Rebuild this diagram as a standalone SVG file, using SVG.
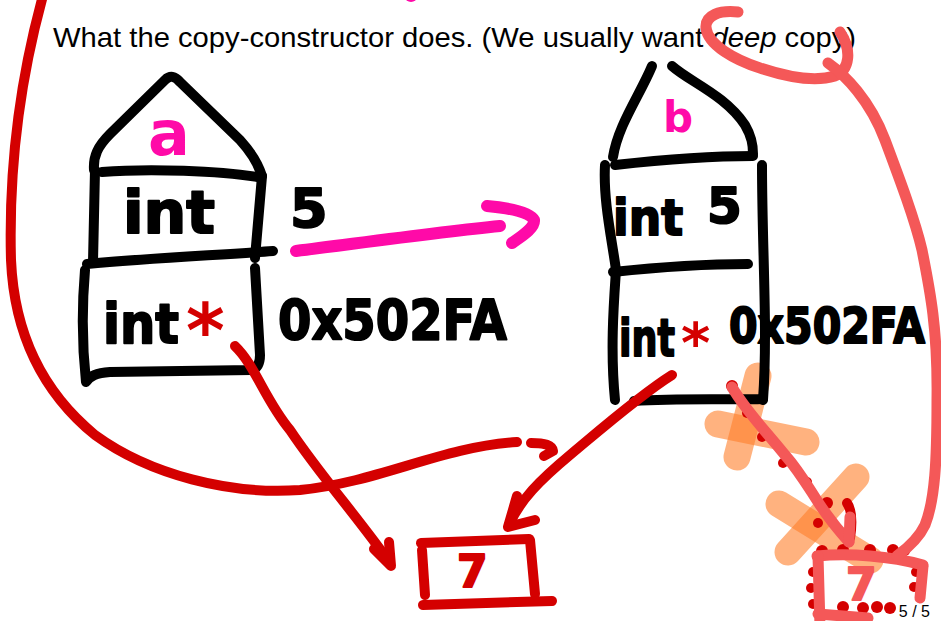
<svg xmlns="http://www.w3.org/2000/svg" width="941" height="621" viewBox="0 0 941 621">
<style>
.ink{fill:none;stroke-linecap:round;stroke-linejoin:round}
.k{stroke:#000;stroke-width:10}
.r{stroke:#d40000;stroke-width:10}
.m{stroke:#ff0aa8;stroke-width:12}
.s{stroke:#f45858;stroke-width:11}
.o{stroke:#ff7f2a;stroke-width:27;stroke-opacity:0.6}
.hw{font-family:"DejaVu Sans",sans-serif;font-weight:bold;stroke-linejoin:round}
.hk{fill:#000;stroke:#000;stroke-width:2}
.title{font-family:"Liberation Sans",Arial,sans-serif;font-size:28px;fill:#000}
.dot{fill:#d40000}
</style>
<rect width="941" height="621" fill="#fff"/>

<text class="title" x="53" y="47" textLength="803" lengthAdjust="spacingAndGlyphs">What the copy-constructor does. (We usually want <tspan font-style="italic">deep</tspan> copy)</text>

<text x="930" y="617" text-anchor="end" style="font-family:'Liberation Sans',Arial,sans-serif;font-size:16px;fill:#000">5 / 5</text>

<!-- orange crosses (under the ink) -->
<g id="crosses">
<path class="ink o" d="M758 376 L737 457"/>
<path class="ink o" d="M718 424 L806 442"/>
<path class="ink o" d="M856 477 L788 552"/>
<path class="ink o" d="M779 504 L870 560"/>
</g>

<g id="obj-a">
<path class="ink k" d="M94 170 C93 156 98 146 110 134 L165 80 C170 75 175 76 180 82 L240 140 C250 151 258 163 262 176"/>
<path class="ink k" d="M102 172 C150 168 220 171 258 177"/>
<path class="ink k" d="M95 170 L93 262"/>
<path class="ink k" d="M262 176 L255 258"/>
<path class="ink k" d="M87 264 C150 258 220 255 273 251"/>
<path class="ink k" d="M85 270 C82 305 82 345 86 382 C90 376 96 373 110 372 L252 370 C258 368 260 363 260 355 L255 268"/>
<text class="hw" x="148" y="155" font-size="62" fill="#ff0aa8">a</text>
<text class="hw hk" x="123" y="233" font-size="58" textLength="92" lengthAdjust="spacingAndGlyphs">int</text>
<text class="hw hk" x="290" y="227" font-size="54">5</text>
<text class="hw hk" x="103" y="343" font-size="56" textLength="76" lengthAdjust="spacingAndGlyphs">int</text>
<text class="hw" x="186" y="357" font-size="74" fill="#d40000">*</text>
<text class="hw hk" x="278" y="339" font-size="56" textLength="229" lengthAdjust="spacingAndGlyphs">0x502FA</text>
</g>

<g id="obj-b">
<path class="ink k" d="M652 66 C640 95 618 125 613 157"/>
<path class="ink k" d="M672 66 C690 82 725 95 745 125 C752 137 753 145 753 154"/>
<path class="ink k" d="M615 165 C660 160 710 156 753 156"/>
<path class="ink k" d="M605 165 C603 200 612 240 616 270 C614 300 610 350 615 400"/>
<path class="ink k" d="M762 165 C762 250 768 330 763 400"/>
<path class="ink k" d="M634 401 C680 398 730 400 763 399"/>
<path class="ink k" d="M613 272 C660 267 700 264 748 264"/>
<text class="hw" x="663" y="132" font-size="42" fill="#ff0aa8">b</text>
<text class="hw hk" font-size="50"><tspan x="613" y="235" textLength="70" lengthAdjust="spacingAndGlyphs">int</tspan> <tspan x="707" y="223">5</tspan></text>
<text class="hw hk" x="619" y="356" font-size="52" textLength="56" lengthAdjust="spacingAndGlyphs">int</text>
<text class="hw" x="681" y="362" font-size="56" fill="#d40000">*</text>
<text class="hw hk" x="729" y="343" font-size="49" textLength="196" lengthAdjust="spacingAndGlyphs">0x502FA</text>
</g>

<g id="box-7-left">
<path class="ink r" d="M421 543 L529 539"/>
<path class="ink r" d="M422 550 L425 595"/>
<path class="ink r" d="M530 540 L535 594"/>
<path class="ink r" d="M423 605 L552 601"/>
<text class="hw" x="457" y="587" font-size="44" fill="#d40000" stroke="#d40000" stroke-width="2">7</text>
</g>

<g id="box-7-right">
<g class="dot">
<circle cx="822" cy="551" r="6"/><circle cx="843" cy="550" r="6"/><circle cx="870" cy="550" r="6"/><circle cx="893" cy="550" r="6"/><circle cx="905" cy="551" r="5"/>
<circle cx="813" cy="572" r="5"/><circle cx="811" cy="588" r="5"/><circle cx="813" cy="604" r="5"/>
<circle cx="843" cy="607" r="6"/><circle cx="863" cy="608" r="6"/><circle cx="877" cy="607" r="6"/><circle cx="890" cy="608" r="6"/>
<circle cx="914" cy="587" r="5"/><circle cx="916" cy="572" r="5"/>
</g>
<path class="ink s" d="M817 556 C850 553 890 556 923 565"/>
<path class="ink s" d="M818 556 L820 626"/>
<path class="ink s" d="M923 566 L920 598"/>
<path class="ink s" d="M818 614 L868 618"/>
<text class="hw" x="846" y="600" font-size="44" fill="#f45858" stroke="#f45858" stroke-width="2">7</text>
</g>

<g id="connectors">
<!-- copy arrow -->
<path class="ink m" d="M296 251 C360 243 440 232 500 226"/>
<path class="ink m" d="M487 206 C510 208 530 212 534 220 C535 228 522 236 512 243"/>
<!-- big loop arrow -->
<path class="ink r" d="M44 -8 C25 60 8 150 11 260 C14 330 40 390 95 435 C150 475 230 495 300 490 C380 482 440 447 517 442"/>
<path class="ink r" d="M531 443 C545 443 552 445 553 451 L544 456"/>
<!-- a's pointer -->
<path class="ink r" d="M235 346 C255 365 265 400 290 430 C320 475 360 520 390 563"/>
<path class="ink r" d="M374 549 L391 566 L389 542"/>
<!-- b's pointer -->
<path class="ink r" d="M672 375 C640 395 600 430 570 455 C540 480 520 500 509 525"/>
<path class="ink r" d="M517 496 L508 527 L535 520"/>
<!-- remnants of the struck-out pointer -->
<g class="dot">
<circle cx="732" cy="386" r="6"/><circle cx="747" cy="413" r="5"/><circle cx="762" cy="437" r="5"/><circle cx="783" cy="463" r="5"/><circle cx="807" cy="482" r="5"/><circle cx="827" cy="503" r="6"/><circle cx="818" cy="523" r="5"/>
</g>
<path class="ink r" d="M847 503 C852 510 852 525 850 538"/>
<path class="ink s" d="M732 387 C745 410 765 430 785 455 C800 472 810 490 820 505 C830 520 840 532 849 542"/>
<path class="ink s" d="M850 517 L849 542"/>
<!-- deep circle and line -->
<path class="ink s" d="M738 12 C720 10 705 15 706 28 C708 45 735 60 760 68 C790 78 815 82 835 76 C850 70 852 50 840 32"/>
<path class="ink s" d="M828 63 C845 75 870 100 885 140 C900 180 915 220 922 250 C930 290 938 330 937 400 C937 460 935 500 925 525 C918 540 905 550 897 556"/>
<!-- magenta mark at top edge -->
<ellipse cx="411" cy="-3" rx="6" ry="5" fill="#ff0aa8"/>
</g>
</svg>
